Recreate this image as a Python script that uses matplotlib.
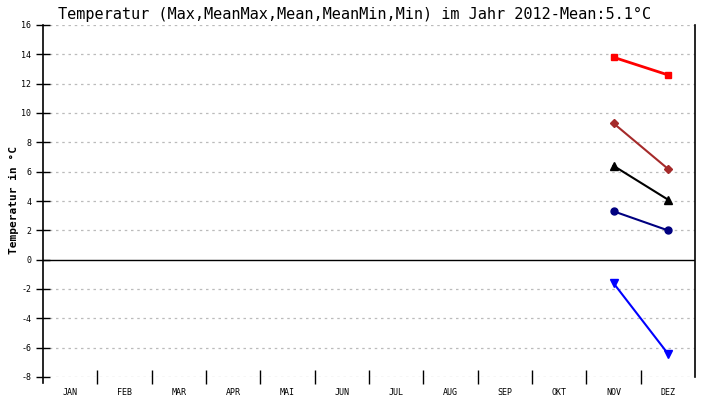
import numpy as np
from matplotlib import pyplot as plt

# months and data (Nov, Dez only)
months = ['JAN', 'FEB', 'MAR', 'APR', 'MAI', 'JUN', 'JUL', 'AUG', 'SEP', 'OKT', 'NOV', 'DEZ']
data_months = [11, 12]
t_max = [13.8, 12.6]
t_meanmax = [9.3, 6.2]
t_mean = [6.4, 4.1]
t_meanmin = [3.3, 2.0]
t_min = [-1.6, -6.4]

mono = 'DejaVu Sans Mono'

fig = plt.figure(figsize=(7.1, 4.0), dpi=100)
ax = fig.add_axes([43/710, 23/400, 652/710, 352/400])

# grid
for y in np.arange(-8, 17, 2):
    if y != 0:
        ax.axhline(y, color='#bbbbbb', linestyle=(0, (2, 3)), linewidth=0.9, zorder=0)
ax.axhline(0, color='black', linewidth=1.0, zorder=1)

ax.plot(data_months, t_max, color='red', marker='s', markersize=5, linewidth=2)
ax.plot(data_months, t_meanmax, color='#a52a2a', marker='D', markersize=4, linewidth=1.5)
ax.plot(data_months, t_mean, color='black', marker='^', markersize=6, linewidth=1.5)
ax.plot(data_months, t_meanmin, color='#000080', marker='o', markersize=5, linewidth=1.5)
ax.plot(data_months, t_min, color='blue', marker='v', markersize=6, linewidth=1.5)

ax.set_xlim(0.5, 12.5)
ax.set_ylim(-8, 16)

ax.set_xticks(range(1, 13))
ax.set_xticklabels(months, fontfamily=mono, fontsize=6)
ax.tick_params(axis='x', which='major', length=0, pad=8)
ax.set_xticks(np.arange(1.5, 12, 1), minor=True)
ax.tick_params(axis='x', which='minor', direction='inout', length=10, width=1)

ax.set_yticks(np.arange(-8, 17, 2))
ax.set_yticklabels([str(v) for v in range(-8, 17, 2)], fontfamily=mono, fontsize=6)
ax.tick_params(axis='y', direction='inout', length=10, width=1)

ax.spines['top'].set_visible(False)
ax.spines['bottom'].set_visible(False)
ax.spines['left'].set_bounds(-8.4, 16)
ax.spines['left'].set_linewidth(1.2)
ax.spines['right'].set_linewidth(1.2)

fig.text(14/710, 0.5, 'Temperatur in °C', rotation=90, ha='center', va='center',
         fontfamily=mono, fontsize=8, fontweight='bold')
fig.text(0.5, 0.965, 'Temperatur (Max,MeanMax,Mean,MeanMin,Min) im Jahr 2012-Mean:5.1°C',
         ha='center', va='center', fontfamily=mono, fontsize=11)

fig.savefig('out.png', dpi=100)
